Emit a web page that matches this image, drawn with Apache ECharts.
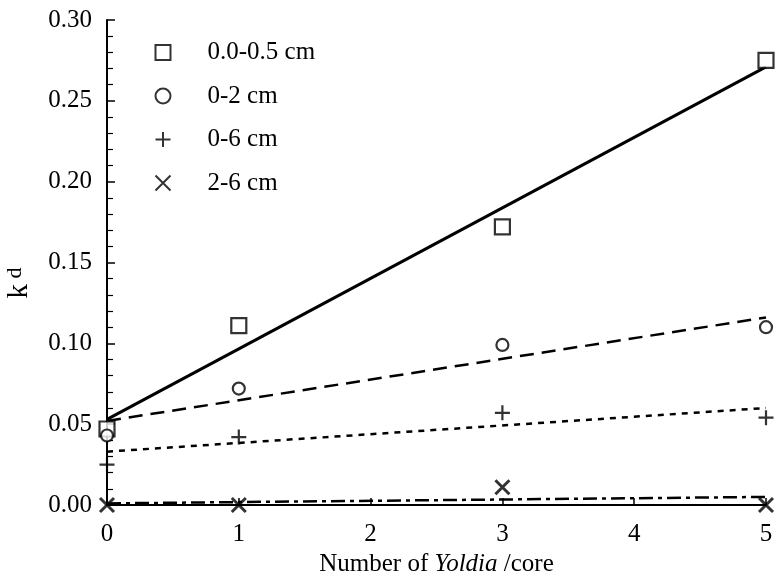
<!DOCTYPE html>
<html>
<head>
<meta charset="utf-8">
<script src="https://cdn.jsdelivr.net/npm/echarts@6/dist/echarts.min.js"></script>
<style>html,body{margin:0;padding:0;background:#fff}#c{width:778px;height:579px}</style>
</head>
<body>
<div id="c"></div>
<script>
// Data
const xValues = [0, 1, 3, 5];
const seriesNames = ['0.0-0.5 cm', '0-2 cm', '0-6 cm', '2-6 cm'];
const sq = [0.047, 0.111, 0.172, 0.275];
const circ = [0.043, 0.072, 0.099, 0.110];
const plus = [0.025, 0.042, 0.057, 0.054];
const cross = [0.000, 0.000, 0.011, 0.000];
// fitted line endpoints (at x = 0 and x = 5)
const fitX = [0, 5];
const fitSq = [0.053, 0.271];
const fitCirc = [0.052, 0.116];
const fitPlus = [0.033, 0.060];
const fitCross = [0.001, 0.005];
const xTicks = [0, 1, 2, 3, 4, 5];

const FONT = '"Liberation Serif", "DejaVu Serif", serif';
const pair = (xs, ys) => xs.map((x, i) => [x, ys[i]]);
const PLUS = 'path://M5,0L5,10M0,5L10,5';
const CROSS = 'path://M0,0L10,10M10,0L0,10';

const markStyle = {color: '#fff', borderColor: '#000', borderWidth: 2.2};
const chart = echarts.init(document.getElementById('c'), null, {renderer: 'canvas'});
chart.setOption({
  animation: false,
  backgroundColor: '#fff',
  textStyle: {fontFamily: FONT, color: '#000'},
  grid: {left: 107, right: 12, top: 20, bottom: 74, containLabel: false, outerBoundsMode: 'none'},
  legend: {
    orient: 'vertical', left: 148, top: 35, itemWidth: 15, itemHeight: 15, itemGap: 18.5,
    data: seriesNames,
    textStyle: {fontFamily: FONT, fontSize: 25, color: '#000', padding: [0, 0, 0, 32]}
  },
  xAxis: {
    type: 'value', min: 0, max: 5, interval: 1,
    axisLine: {show: true, onZero: false, lineStyle: {color: '#000', width: 2}},
    axisTick: {show: true, inside: true, length: 7, lineStyle: {color: '#000', width: 1.5}},
    axisLabel: {fontFamily: FONT, fontSize: 25, color: '#000', margin: 17,
      formatter: v => xTicks.includes(v) ? String(v) : ''},
    splitLine: {show: false},
    name: '{a|Number of }{i|Yoldia}{a| /core}', nameLocation: 'middle', nameGap: 46,
    nameTextStyle: {rich: {
      a: {fontFamily: FONT, fontSize: 25, color: '#000'},
      i: {fontFamily: FONT, fontSize: 25, color: '#000', fontStyle: 'italic'}
    }}
  },
  yAxis: {
    type: 'value', min: 0, max: 0.30, interval: 0.05,
    axisLine: {show: true, lineStyle: {color: '#000', width: 2}},
    axisTick: {show: true, inside: true, length: 8, lineStyle: {color: '#000', width: 1.5}},
    minorTick: {show: true, splitNumber: 5, length: 6, lineStyle: {color: '#000', width: 1.2}},
    axisLabel: {fontFamily: FONT, fontSize: 25, color: '#000', margin: 15,
      formatter: v => v.toFixed(2)},
    splitLine: {show: false}
  },
  graphic: [{
    type: 'text', x: 19, y: 283, rotation: Math.PI / 2,
    style: {
      text: '{k|k}{d| d}', align: 'center', verticalAlign: 'middle',
      rich: {
        k: {fontFamily: FONT, fontSize: 29, fill: '#000'},
        d: {fontFamily: FONT, fontSize: 22, fill: '#000', padding: [0, 0, 8, 0]}
      }
    }
  }],
  series: [
    {name: seriesNames[0], type: 'scatter', data: pair(xValues, sq), symbol: 'rect', symbolSize: 15, itemStyle: markStyle, z: 5},
    {name: seriesNames[1], type: 'scatter', data: pair(xValues, circ), symbol: 'circle', symbolSize: 12, itemStyle: markStyle, z: 5},
    {name: seriesNames[2], type: 'scatter', data: pair(xValues, plus), symbol: PLUS, symbolSize: 15, itemStyle: {color: 'none', borderColor: '#000', borderWidth: 2.2}, z: 5},
    {name: seriesNames[3], type: 'scatter', data: pair(xValues, cross), symbol: CROSS, symbolSize: 14, itemStyle: {color: 'none', borderColor: '#000', borderWidth: 3}, z: 5},
    {type: 'line', data: pair(fitX, fitSq), showSymbol: false, lineStyle: {color: '#000', width: 3, type: 'solid'}, z: 3},
    {type: 'line', data: pair(fitX, fitCirc), showSymbol: false, lineStyle: {color: '#000', width: 2.5, type: [14, 8]}, z: 3},
    {type: 'line', data: pair(fitX, fitPlus), showSymbol: false, lineStyle: {color: '#000', width: 2.5, type: [6, 6]}, z: 3},
    {type: 'line', data: pair(fitX, fitCross), showSymbol: false, lineStyle: {color: '#000', width: 2.5, type: [14, 5, 4, 5]}, z: 3}
  ]
});
</script>
</body>
</html>
